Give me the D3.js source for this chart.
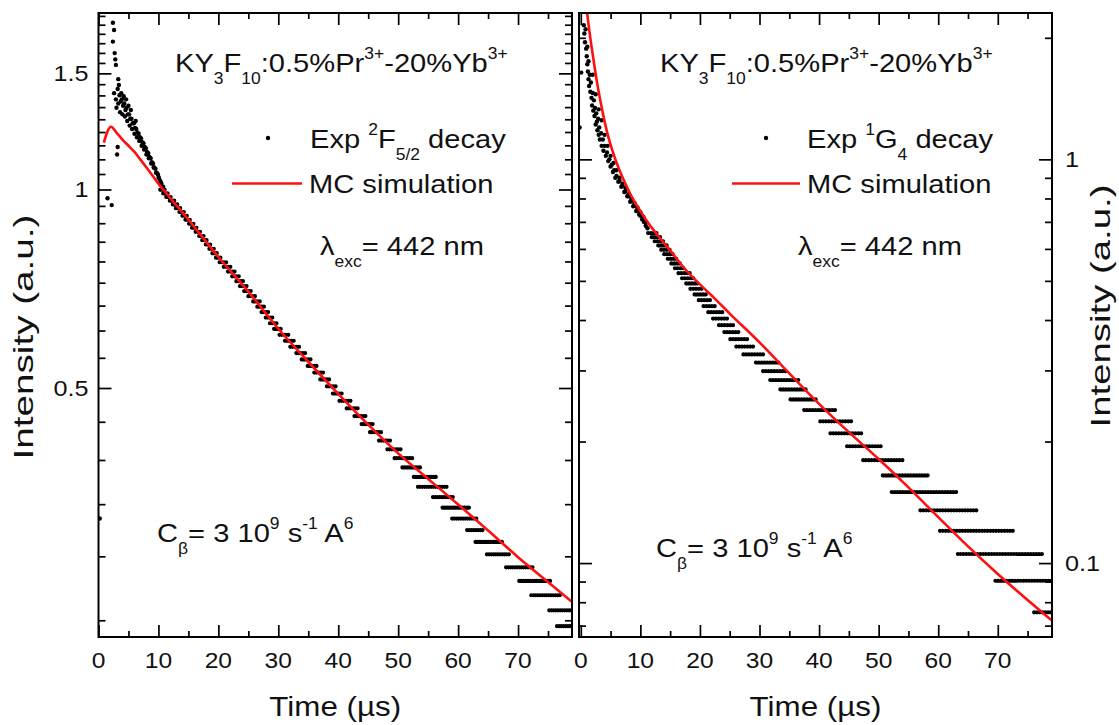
<!DOCTYPE html>
<html><head><meta charset="utf-8">
<script src="https://cdn.jsdelivr.net/npm/d3@7"></script>
<style>
html,body{margin:0;padding:0;background:#fff;}
svg{display:block;}
text{font-family:"Liberation Sans",Arial,Helvetica,sans-serif;fill:#111;white-space:pre;}
</style></head><body>
<svg id="chart" width="1119" height="725"></svg>
<script>
// ---------------- DATA ----------------
const xMajorTicks = [0,10,20,30,40,50,60,70];
const xMinorTicks = [5,15,25,35,45,55,65,75];
const xTickLabels = ["0","10","20","30","40","50","60","70"];

const leftYMajorTicks = [0.5,1,1.5];
const leftYTickLabels = ["0.5","1","1.5"];
const leftYMinorTicks = [0.2222,0.2778,0.3333,0.3889,0.4444,0.5556,0.6111,0.6667,0.7222,0.7778,0.8333,0.8889,0.9444,1.0556,1.1111,1.1667,1.2222,1.2778,1.3333,1.3889,1.4444,1.5556,1.6111,1.6667,1.7222,1.7778,1.8333];

const rightYMajorTicks = [0.1,1];
const rightYTickLabels = ["0.1","1"];
const rightYMinorTicks = [0.07,0.08,0.09,0.2,0.3,0.4,0.5,0.6,0.7,0.8,0.9,2];

// Left panel: MC simulation (2F5/2)
const leftMcTime = [0.9,1.5,2.1,3,4,5,6,7,8,9,10,11,12,15,20,25,30,35,40,45,50,55,60,65,70,75,79];
const leftMcIntensity = [1.178,1.225,1.245,1.22,1.19,1.165,1.14,1.11,1.08,1.05,1.02,0.995,0.97,0.90,0.79,0.70,0.615,0.548,0.49,0.44,0.398,0.364,0.333,0.304,0.277,0.254,0.237];

// Left panel: experimental scatter (early part)
const leftExpTime = [0.2,1.5,2.2,2.4,2.6,2.4,2.7,2.8,2.9,3.3,3.4,3.2,3.1,3.2,2.6,2.9,3.0,3.3,3.5,3.7,3.9,4.1,4.3,4.5,4.7,4.9,5.1,5.3,5.5,5.7,5.9,6.1,6.3,6.5,6.7,6.9,7.1,7.3,7.5,7.7,7.9,8.1,8.3,8.5,8.7,8.9,9.1,9.3,9.5,9.7,9.9,10.1,10.3,10.5,
  3.6,4.0,4.4,4.8,5.2,5.6,6.0,6.4,6.8,7.2,7.6,8.0,8.4,8.8,9.2,9.6,10.0,10.4,10.8,3.8,4.2,4.6,5.0,5.4,6.2];
const leftExpIntensity = [0.317,0.97,0.947,1.79,1.745,1.676,1.61,1.575,1.545,1.47,1.44,1.42,1.13,1.16,1.40,1.37,1.33,1.35,1.39,1.36,1.37,1.34,1.35,1.32,1.33,1.30,1.30,1.28,1.28,1.26,1.26,1.24,1.235,1.22,1.215,1.20,1.195,1.18,1.175,1.16,1.155,1.14,1.135,1.12,1.115,1.10,1.095,1.08,1.075,1.06,1.055,1.04,1.03,1.02,
  1.31,1.30,1.29,1.27,1.25,1.235,1.215,1.20,1.185,1.165,1.15,1.13,1.115,1.095,1.08,1.06,1.045,1.025,1.01,1.40,1.385,1.37,1.34,1.32,1.27];

// Left panel: quantized experimental rows (level, start time, end time)
const leftRowLevel = [0.9989,0.9865,0.9741,0.9617,0.9493,0.9369,0.9245,0.9121,0.8997,0.8873,0.8749,0.8625,0.8501,0.8377,0.8253,0.8129,0.8005,0.7881,0.7757,0.7633,0.7509,0.7385,0.7261,0.7137,0.7013,0.6889,0.6765,0.6641,0.6517,0.6393,0.6269,0.6145,0.6021,0.5897,0.5773,0.5649,0.5525,0.5401,0.5277,0.5153,0.5029,0.4905,0.4781,0.4657,0.4533,0.4409,0.4285,0.4161,0.4037,0.3913,0.3789,0.3665,0.3541,0.3417,0.3293,0.3169,0.3045,0.2921,0.2797,0.2673,0.2549,0.2425,0.2301,0.2177];
const leftRowStart = [10.3,10.8,11.3,11.9,12.4,12.9,13.5,14.0,14.5,15.1,15.6,16.2,16.8,17.3,17.9,18.5,19.0,19.6,20.2,20.9,21.6,22.3,23.0,23.6,24.3,25.0,25.8,26.5,27.2,27.9,28.6,29.3,30.2,31.1,32.0,33.0,33.9,34.9,36.0,37.0,38.1,39.1,40.2,41.4,42.7,43.9,45.3,46.8,48.2,49.4,50.7,52.6,53.3,55.8,57.4,59.0,61.5,62.9,64.8,68.0,70.2,72.2,75.2,76.5];
const leftRowEnd = [11.3,11.8,12.3,12.9,13.4,13.9,14.5,15.0,15.5,16.1,16.6,17.2,17.8,18.3,18.9,19.5,20.0,20.6,21.4,22.1,22.8,23.5,24.2,24.8,25.5,26.3,27.0,27.7,28.5,29.2,30.0,30.7,31.7,32.7,33.6,34.5,35.4,36.4,37.5,38.6,39.7,40.8,42.2,43.4,44.7,45.9,47.4,48.9,50.5,52.6,53.9,56.5,58.4,59.2,61.9,63.2,64.4,67.4,68.6,72.5,75.7,77.0,78.9,79.0];

// Right panel: MC simulation (1G4)
const rightMcTime = [0.5,1.07,1.6,2.15,2.7,3.27,4.4,5.5,6.5,7.5,8.7,10,11.2,12.5,15,17.5,20,22.5,25,30,35,40,45,50,55,60,65,70,75,79.1];
const rightMcIntensity = [2.75,2.30,2.0,1.76,1.56,1.40,1.17,1.03,0.94,0.87,0.80,0.745,0.70,0.66,0.595,0.535,0.49,0.452,0.415,0.352,0.295,0.248,0.211,0.181,0.154,0.13,0.11,0.094,0.081,0.072];

// Right panel: experimental scatter (early part)
const rightExpTime = [-0.2,0.07,0.5,0.6,0.7,0.8,0.9,1.0,1.1,1.1,1.2,1.3,1.3,1.4,1.5,1.6,1.7,1.8,1.9,2.0,2.1,2.2,2.3,2.4,2.5,2.6,2.7,2.8,2.9,3.0,3.1,3.2,3.4,3.5,3.7,3.8,4.0,4.2,4.4,4.6,4.8,5.0,5.2,5.4,5.6,5.8,6.0,6.3,6.5,6.8,7.0,7.3,7.5,7.8,8.0,8.3,8.5,8.8,9.0,9.3,9.5,9.8,10.0,10.3,10.6,10.9,11.2,
  2.0,2.5,3.0,3.5,4.0,4.5,5.0,5.5,6.0,6.5,7.0,7.5,8.0,8.5,9.0,9.5,10.0,10.5,11.0];
const rightExpIntensity = [1.2,1.64,2.15,2.05,1.95,2.1,1.88,1.80,1.72,1.9,1.65,1.58,1.75,1.52,1.62,1.47,1.55,1.42,1.36,1.46,1.32,1.40,1.28,1.34,1.22,1.30,1.24,1.18,1.26,1.15,1.20,1.12,1.16,1.08,1.12,1.05,1.08,1.02,1.04,0.99,1.0,0.96,0.97,0.93,0.94,0.90,0.91,0.88,0.885,0.855,0.86,0.83,0.835,0.81,0.81,0.785,0.79,0.765,0.77,0.745,0.75,0.73,0.725,0.71,0.70,0.685,0.675,
  1.62,1.45,1.33,1.25,1.15,1.08,1.02,0.98,0.94,0.90,0.87,0.85,0.82,0.80,0.78,0.76,0.74,0.72,0.70];

// Right panel: quantized experimental rows
const rightRowLevel = [0.6566,0.6417,0.6268,0.6119,0.5970,0.5821,0.5672,0.5523,0.5374,0.5225,0.5076,0.4927,0.4778,0.4629,0.4480,0.4331,0.4182,0.4033,0.3884,0.3735,0.3586,0.3437,0.3288,0.3139,0.2990,0.2841,0.2692,0.2543,0.2394,0.2245,0.2096,0.1947,0.1798,0.1649,0.1500,0.1351,0.1202,0.1053,0.0904,0.0755];
const rightRowStart = [11.3,11.9,12.4,13.0,13.5,14.0,14.6,15.2,15.8,16.4,17.0,17.7,18.4,19.1,19.8,20.6,21.4,22.2,23.2,24.1,25.1,26.1,27.3,29.4,30.6,31.8,33.5,35.2,37.5,40.2,41.9,44.7,47.4,50.7,52.2,57.0,60.3,63.3,69.6,76.1];
const rightRowEnd = [12.9,13.5,14.0,14.6,15.2,15.8,16.4,17.0,17.6,18.3,19.0,19.7,20.4,21.2,22.0,22.9,23.8,24.8,25.8,26.9,28.0,29.2,30.7,33.5,34.8,36.6,38.0,39.5,43.0,45.8,47.5,50.8,54.0,58.5,63.3,66.6,72.9,77.6,79.1,79.1];

// ---------------- DRAWING ----------------
const svg = d3.select("#chart");
const SX = 1.12;           // horizontal stretch of the original lettering
const TOP = 13, BOTTOM = 637;

function richText(parent, x, y, parts, size, anchor, rotate, sx) {
  const g = parent.append("g")
    .attr("transform", `translate(${x},${y})` + (rotate ? ` rotate(${rotate})` : "") + ` scale(${sx || SX},1)`);
  const t = g.append("text").attr("font-size", size).attr("text-anchor", anchor || "start");
  let cur = 0;
  parts.forEach(p => {
    const str = Array.isArray(p) ? p[0] : p;
    const mode = Array.isArray(p) ? p[1] : 0;
    const target = mode === 1 ? -size * 0.5 : (mode === -1 ? size * 0.48 : 0);
    const ts = t.append("tspan").text(str);
    if (target - cur !== 0) ts.attr("dy", target - cur);
    if (mode) ts.attr("font-size", size * 0.6);
    cur = target;
  });
  return t;
}

function panel(opt) {
  const {x0, x1, xs, ys, yMajor, yMinor, yLabels, labelSide, id} = opt;
  const g = svg.append("g");
  g.append("clipPath").attr("id", id).append("rect")
    .attr("x", x0).attr("y", TOP).attr("width", x1 - x0).attr("height", BOTTOM - TOP);
  const plot = g.append("g").attr("clip-path", `url(#${id})`);

  // experimental rows (quantized levels) drawn as rows of dots
  plot.append("g").selectAll("path").data(opt.rowLevel).join("path")
    .attr("d", (lv, i) => `M${xs(opt.rowStart[i])},${ys(lv)}H${xs(opt.rowEnd[i])}`)
    .attr("fill", "none").attr("stroke", "#000").attr("stroke-width", opt.rowWidth)
    .attr("stroke-linecap", "round").attr("stroke-dasharray", opt.dash);

  // experimental scatter
  plot.append("g").selectAll("circle").data(opt.expTime).join("circle")
    .attr("cx", d => xs(d)).attr("cy", (d, i) => ys(opt.expI[i])).attr("r", 2.2).attr("fill", "#000");

  // MC line
  const pts = opt.mcTime.map((t, i) => [t, opt.mcI[i]]);
  plot.append("path").datum(pts)
    .attr("d", d3.line().x(d => xs(d[0])).y(d => ys(d[1])).curve(d3.curveMonotoneX))
    .attr("fill", "none").attr("stroke", "#ff1010").attr("stroke-width", 2.6);

  // axes (inward ticks)
  const ax = (axisFn, scale, vals, size, tr) => {
    const a = g.append("g").attr("transform", tr)
      .call(axisFn(scale).tickValues(vals).tickSize(-size).tickSizeOuter(0).tickFormat(""));
    a.select(".domain").remove();
    a.selectAll("line").attr("stroke", "#000").attr("stroke-width", 1.7);
  };
  ax(d3.axisBottom, xs, xMajorTicks, 12, `translate(0,${BOTTOM})`);
  ax(d3.axisBottom, xs, xMinorTicks, 6, `translate(0,${BOTTOM})`);
  ax(d3.axisTop, xs, xMajorTicks, 12, `translate(0,${TOP})`);
  ax(d3.axisTop, xs, xMinorTicks, 6, `translate(0,${TOP})`);
  ax(d3.axisLeft, ys, yMajor, 13, `translate(${x0},0)`);
  ax(d3.axisLeft, ys, yMinor, 7, `translate(${x0},0)`);
  ax(d3.axisRight, ys, yMajor, 13, `translate(${x1},0)`);
  ax(d3.axisRight, ys, yMinor, 7, `translate(${x1},0)`);

  // frame
  g.append("rect").attr("x", x0).attr("y", TOP).attr("width", x1 - x0).attr("height", BOTTOM - TOP)
    .attr("fill", "none").attr("stroke", "#000").attr("stroke-width", 2);

  // x tick labels
  xMajorTicks.forEach((v, i) => richText(g, xs(v), 668, [xTickLabels[i]], 22, "middle"));
  // y tick labels
  yMajor.forEach((v, i) => {
    if (labelSide === "left") richText(g, x0 - 10, ys(v) + 8, [yLabels[i]], 22.5, "end");
    else richText(g, x1 + 13, ys(v) + 8, [yLabels[i]], 22.5, "start");
  });
  // x title
  richText(g, (x0 + x1) / 2, 716, ["Time (µs)"], 28, "middle");
  return g;
}

// Left panel
const xL = d3.scaleLinear().domain([0, 79]).range([98.5, 572]);
const yL = d3.scaleLog().domain([0.2096, 1.852]).range([BOTTOM, TOP]);
panel({x0: 98.5, x1: 572, xs: xL, ys: yL, yMajor: leftYMajorTicks, yMinor: leftYMinorTicks,
  yLabels: leftYTickLabels, labelSide: "left", id: "clipL",
  rowLevel: leftRowLevel, rowStart: leftRowStart, rowEnd: leftRowEnd, dash: "0 2.2", rowWidth: 4.2,
  expTime: leftExpTime, expI: leftExpIntensity, mcTime: leftMcTime, mcI: leftMcIntensity});

// Right panel
const xR = d3.scaleLinear().domain([-0.3, 79.1]).range([579, 1052]);
const yR = d3.scaleLog().domain([0.0656, 2.304]).range([BOTTOM, TOP]);
panel({x0: 579, x1: 1052, xs: xR, ys: yR, yMajor: rightYMajorTicks, yMinor: rightYMinorTicks,
  yLabels: rightYTickLabels, labelSide: "right", id: "clipR",
  rowLevel: rightRowLevel, rowStart: rightRowStart, rowEnd: rightRowEnd, dash: "0 2.8", rowWidth: 4.2,
  expTime: rightExpTime, expI: rightExpIntensity, mcTime: rightMcTime, mcI: rightMcIntensity});

// y titles
richText(svg, 33, 337, ["Intensity (a.u.)"], 28, "middle", -90, 1.38);
richText(svg, 1110, 306, ["Intensity (a.u.)"], 27, "middle", -90, 1.42);

// Annotations
const formula = ["KY", ["3", -1], "F", ["10", -1], ":0.5%Pr", ["3+", 1], "-20%Yb", ["3+", 1]];
const cbeta = ["C", ["β", -1], "= 3 10", ["9", 1], " s", ["-1", 1], " A", ["6", 1]];
const lambda = ["λ", ["exc", -1], "= 442 nm"];

richText(svg, 175, 72, formula, 26, "start");
richText(svg, 310, 148, ["Exp ", ["2", 1], "F", ["5/2", -1], " decay"], 26, "start");
richText(svg, 309, 193, ["MC simulation"], 26, "start");
richText(svg, 320, 255, lambda, 26, "start");
richText(svg, 157, 542, cbeta, 26, "start");
svg.append("circle").attr("cx", 268).attr("cy", 138).attr("r", 2.2).attr("fill", "#000");
svg.append("line").attr("x1", 232).attr("x2", 302).attr("y1", 183.5).attr("y2", 183.5)
  .attr("stroke", "#ff1010").attr("stroke-width", 2.6);

richText(svg, 660, 72, formula, 26, "start");
richText(svg, 807, 148, ["Exp ", ["1", 1], "G", ["4", -1], " decay"], 26, "start");
richText(svg, 807, 193, ["MC simulation"], 26, "start");
richText(svg, 798, 255, lambda, 26, "start");
richText(svg, 656, 557, cbeta, 26, "start");
svg.append("circle").attr("cx", 766).attr("cy", 138).attr("r", 2.2).attr("fill", "#000");
svg.append("line").attr("x1", 732).attr("x2", 800).attr("y1", 183.5).attr("y2", 183.5)
  .attr("stroke", "#ff1010").attr("stroke-width", 2.6);
</script></body></html>
